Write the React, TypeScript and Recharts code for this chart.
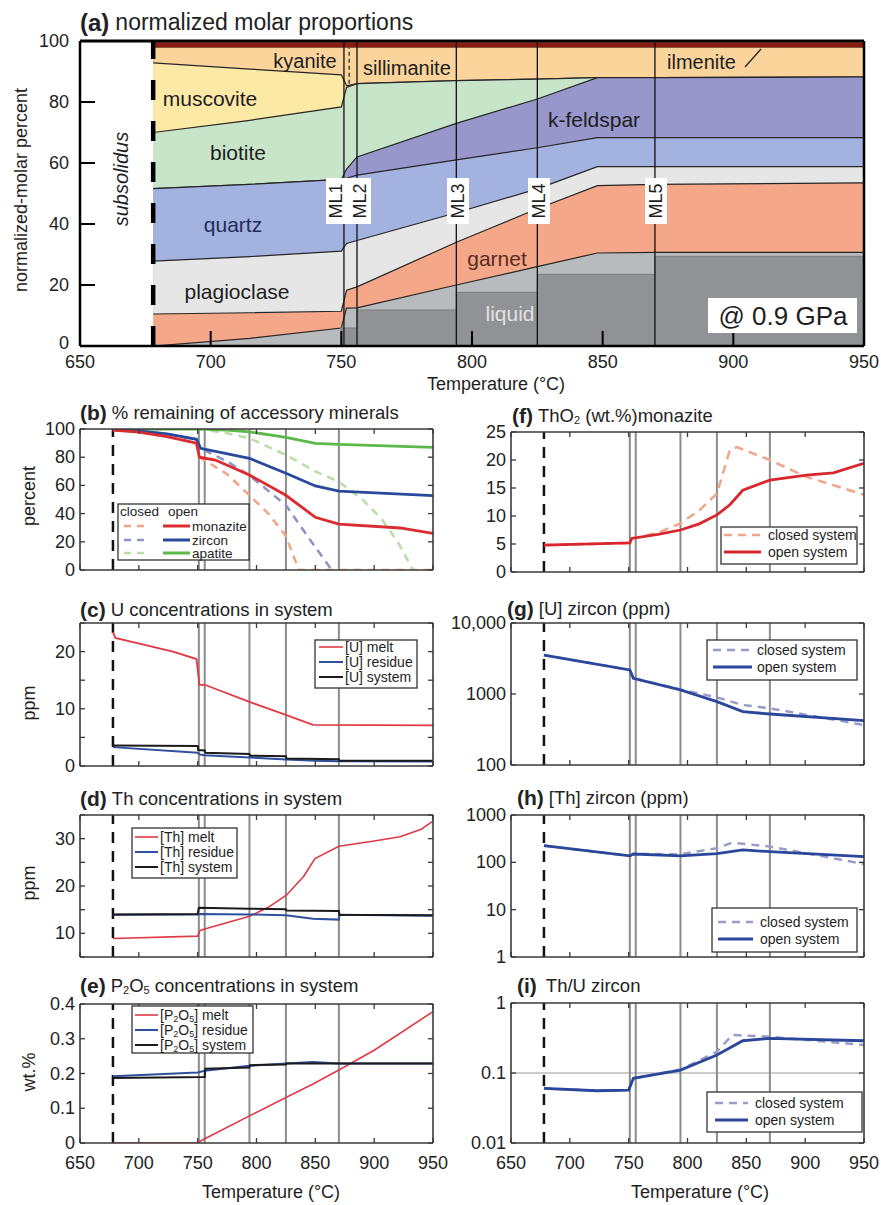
import React from 'react';
import { Area, ComposedChart, Line, ReferenceLine, XAxis, YAxis } from 'recharts';

const FONT = '"Liberation Sans", Arial, Helvetica, sans-serif';
const INK = '#3a3a3a';
const EDGE = '#262626';
const ML_GREY = '#8c8c8c';

const X_TICKS = [650, 700, 750, 800, 850, 900, 950];
const SOLIDUS_T = 678;
const ML_T = [751, 756, 794, 825, 870];

// (a) upper boundary of each phase field (normalized-molar percent)
const phaseT = [678, 715, 750, 752, 756, 794, 825, 848, 870, 950];
const liquidTop = [0, 2.5, 5.9, 12.4, 12.5, 20, 26, 30.5, 30.7, 30.7];
const garnetTop = [10.5, 10.9, 11.4, 18.3, 19.4, 34, 45, 52.6, 53, 53.5];
const plagioclaseTop = [27.8, 29.3, 31.1, 33.6, 34.6, 43.7, 51.5, 58.8, 58.8, 58.8];
const quartzTop = [51.6, 53, 54.6, 55, 56, 61, 65, 68.3, 68.3, 68.3];
const kfeldsparTop = [51.6, 53, 54.6, 58, 62, 73, 81, 88, 88, 88.2];
const biotiteTop = [70, 74, 78.4, 84.8, 86, 87, 87.5, 88, 88, 88.2];
const muscoviteTop = [92.8, 90.8, 88.9, 85.3, 86, 87, 87.5, 88, 88, 88.2];
const al2sio5Top = [98, 98, 98, 98, 98, 98, 98, 98, 98, 98];
const ilmeniteTop = [99.6, 99.6, 99.6, 99.6, 99.6, 99.6, 99.6, 99.6, 99.6, 99.6];
// extracted melt (step increases at each melt-loss event)
const extractedT = [749.5, 756, 794, 825, 870, 950];
const extractedLiquid = [5.9, 11.8, 17.6, 23.5, 29.4, 29.4];

// (b) % remaining of accessory minerals
const monaziteOpenT = [678, 700, 724, 749, 751.5, 765, 794, 825, 850, 870, 922, 950];
const monaziteOpen = [99.3, 97.8, 94.6, 89.9, 80, 78, 67.4, 53, 37.4, 32.6, 29.8, 26];
const monaziteClosedT = [678, 700, 724, 749, 751.5, 775, 794, 810, 825, 836, 950];
const monaziteClosed = [99.3, 97.8, 94.6, 89.9, 80, 68, 53, 40, 24, 0, 0];
const zirconOpenT = [678, 700, 724, 749, 752.5, 794, 825, 850, 870, 950];
const zirconOpen = [99.5, 98.6, 96.5, 92.7, 86.3, 79.2, 68.6, 59.6, 56, 52.7];
const zirconClosedT = [678, 700, 724, 749, 752.5, 775, 794, 825, 845, 864];
const zirconClosed = [99.5, 98.6, 96.5, 92.7, 86.3, 77, 67, 46, 22, 0];
const apatiteOpenT = [678, 752, 775, 794, 825, 850, 870, 950];
const apatiteOpen = [100, 100, 99.3, 98, 94, 89.8, 89.1, 87];
const apatiteClosedT = [678, 752, 775, 794, 825, 850, 870, 890, 907, 920, 933];
const apatiteClosed = [100, 100, 97, 93.4, 81.6, 70, 62.6, 50, 35.5, 20, 0];

// (c) U ppm
const uMeltT = [678, 680, 704, 729, 749, 751.5, 756, 794, 825.5, 848, 950];
const uMelt = [23.4, 22.4, 21.2, 20, 18.7, 14.2, 14.2, 11.2, 8.9, 7.2, 7.1];
const uResidueT = [678, 750, 752, 756, 794, 825, 850, 870, 950];
const uResidue = [3.3, 2.3, 2.0, 1.9, 1.5, 1.15, 0.9, 0.85, 0.8];
const uSystemT = [678, 750, 750.5, 756, 756.5, 794, 794.5, 825, 825.5, 870, 870.5, 950];
const uSystem = [3.6, 3.5, 2.8, 2.7, 2.3, 2.1, 1.8, 1.7, 1.3, 1.2, 0.9, 0.9];

// (d) Th ppm
const thMeltT = [678, 750, 752, 756, 794, 810, 825.6, 840, 849.7, 870, 900, 922, 940, 950];
const thMelt = [8.9, 9.4, 10.6, 10.9, 13.6, 15.5, 18.1, 22, 25.8, 28.4, 29.5, 30.4, 32, 33.7];
const thResidueT = [678, 750, 752, 794, 825, 848, 870, 870.5, 950];
const thResidue = [13.9, 14.0, 14.1, 14.0, 13.8, 13.1, 12.9, 13.9, 13.7];
const thSystemT = [678, 750, 751, 794, 825, 825.5, 870, 870.5, 950];
const thSystem = [14.0, 14.1, 15.4, 15.2, 15.1, 14.8, 14.7, 13.9, 13.8];

// (e) P2O5 wt.%
const pMeltT = [678, 750, 752, 794, 825, 848, 870, 900, 950];
const pMelt = [0, 0, 0.005, 0.078, 0.131, 0.17, 0.21, 0.267, 0.378];
const pResidueT = [678, 750, 756, 794, 825, 848, 870, 950];
const pResidue = [0.192, 0.203, 0.208, 0.222, 0.229, 0.233, 0.229, 0.229];
const pSystemT = [678, 756, 756.5, 794, 794.5, 825, 825.5, 950];
const pSystem = [0.187, 0.19, 0.214, 0.217, 0.224, 0.226, 0.229, 0.229];

// (f) ThO2 wt.% in monazite
const thoOpenT = [678, 751, 752.5, 775, 794, 810, 825, 836, 847, 870, 901, 924, 950];
const thoOpen = [4.8, 5.2, 6.0, 6.7, 7.5, 8.6, 10.2, 12, 14.6, 16.4, 17.3, 17.7, 19.4];
const thoClosedT = [678, 751, 752.5, 775, 794, 810, 825, 836, 842, 870, 901, 950];
const thoClosed = [4.8, 5.2, 6.0, 7.0, 8.7, 11, 14.0, 21.8, 22.3, 20, 17, 13.8];

// (g) [U] zircon ppm
const uZrnOpenT = [678, 751, 754, 794, 825, 847, 870, 950];
const uZrnOpen = [3540, 2180, 1660, 1140, 780, 564, 523, 421];
const uZrnClosedT = [678, 751, 754, 794, 825, 847, 870, 950];
const uZrnClosed = [3540, 2180, 1660, 1160, 897, 700, 628, 366];

// (h) [Th] zircon ppm
const thZrnOpenT = [678, 751, 754, 794, 825, 847, 870, 950];
const thZrnOpen = [225, 137, 150, 137, 152, 183, 168, 132];
const thZrnClosedT = [678, 751, 754, 794, 825, 838, 870, 950];
const thZrnClosed = [225, 137, 150, 148, 199, 261, 215, 92.5];

// (i) Th/U zircon
const ratioOpenT = [678, 723, 750, 754, 794, 825, 847, 870, 950];
const ratioOpen = [0.0604, 0.0558, 0.057, 0.084, 0.11, 0.181, 0.289, 0.313, 0.289];
const ratioClosedT = [678, 723, 750, 754, 794, 825, 838, 870, 950];
const ratioClosed = [0.0604, 0.0558, 0.057, 0.084, 0.112, 0.201, 0.349, 0.33, 0.251];

type Pt = { t: number; v: number };
type Series = { key: string; data: Pt[]; color: string; width: number; dash?: string };
const pts = (t: number[], v: number[]): Pt[] => t.map((x, i) => ({ t: x, v: v[i] }));

const C = {
  monO: '#dc2a31', monC: '#f2a483',
  zrnO: '#27489b', zrnC: '#8d93c3',
  apO: '#5cb848', apC: '#b8dea6',
  melt: '#e03a45', res: '#2f4f9e', sys: '#1b1b1b',
  thoO: '#d8262f', thoC: '#f0a688',
  zO: '#2b479b', zC: '#979dc8',
};

const PW = 353;

function Panel(props: {
  plotLeft: number; plotTop: number; plotH: number;
  yDomain: [number, number]; yTicks: number[]; yFmt: (v: number) => string;
  log?: boolean; series: Series[]; showX?: boolean; hGrid?: number[];
}) {
  const { plotLeft, plotTop, plotH, yDomain, yTicks, yFmt, log, series, showX, hGrid } = props;
  const YW = 76, MT = 14, MR = 26, XH = showX ? 36 : 12;
  const bottom = MT + plotH;
  const right = YW + PW;
  const xTick = (p: any) => (
    <g>
      <line x1={p.x} x2={p.x} y1={bottom} y2={bottom - 5} stroke={INK} strokeWidth={1.3} />
      <line x1={p.x} x2={p.x} y1={MT} y2={MT + 5} stroke={INK} strokeWidth={1.3} />
      {showX ? (
        <text x={p.x} y={bottom + 20} textAnchor="middle" dominantBaseline="central" fontSize={18} fontFamily={FONT} fill="#222">
          {p.payload.value}
        </text>
      ) : null}
    </g>
  );
  const yTick = (p: any) => (
    <g>
      <line x1={YW} x2={YW + 5} y1={p.y} y2={p.y} stroke={INK} strokeWidth={1.3} />
      <line x1={right} x2={right - 5} y1={p.y} y2={p.y} stroke={INK} strokeWidth={1.3} />
      <text x={YW - 5} y={p.y} textAnchor="end" dominantBaseline="central" fontSize={18} fontFamily={FONT} fill="#222">
        {yFmt(p.payload.value)}
      </text>
    </g>
  );
  return (
    <div style={{ position: 'absolute', left: plotLeft - YW, top: plotTop - MT }}>
      <ComposedChart width={YW + PW + MR} height={MT + plotH + XH} margin={{ top: MT, right: MR, left: 0, bottom: 0 }}>
        {(hGrid || []).map((g) => (
          <ReferenceLine key={'g' + g} y={g} stroke="#9a9a9a" strokeWidth={1.2} />
        ))}
        {ML_T.map((t) => (
          <ReferenceLine key={t} x={t} stroke={ML_GREY} strokeWidth={2} />
        ))}
        <ReferenceLine x={SOLIDUS_T} stroke="#111" strokeWidth={2.5} strokeDasharray="11 8" />
        {series.map((s) => (
          <Line
            key={s.key}
            data={s.data}
            dataKey="v"
            type="linear"
            stroke={s.color}
            strokeWidth={s.width}
            strokeDasharray={s.dash}
            dot={false}
            activeDot={false}
            isAnimationActive={false}
          />
        ))}
        <ReferenceLine x={950} stroke={INK} strokeWidth={1.6} />
        <ReferenceLine y={yDomain[1]} stroke={INK} strokeWidth={1.6} />
        <XAxis
          type="number"
          dataKey="t"
          domain={[650, 950]}
          ticks={X_TICKS}
          interval={0}
          allowDataOverflow
          height={XH}
          axisLine={{ stroke: INK, strokeWidth: 1.6 }}
          tickLine={false}
          tickSize={0}
          tick={xTick}
        />
        <YAxis
          type="number"
          scale={log ? 'log' : 'linear'}
          domain={yDomain}
          ticks={yTicks}
          interval={0}
          allowDataOverflow
          width={YW}
          axisLine={{ stroke: INK, strokeWidth: 1.6 }}
          tickLine={false}
          tickSize={0}
          tick={yTick}
        />
      </ComposedChart>
    </div>
  );
}

function PhaseChart() {
  const rows = phaseT.map((t, i) => ({
    t,
    ilmenite: ilmeniteTop[i],
    al2sio5: al2sio5Top[i],
    muscovite: muscoviteTop[i],
    biotite: biotiteTop[i],
    kfeldspar: kfeldsparTop[i],
    quartz: quartzTop[i],
    plagioclase: plagioclaseTop[i],
    garnet: garnetTop[i],
    liquid: liquidTop[i],
  }));
  const extracted = extractedT.map((t, i) => ({ t, extracted: extractedLiquid[i] }));
  const layers: [string, string, string][] = [
    ['ilmenite', '#8c1c12', 'none'],
    ['al2sio5', '#fbd49c', '#6b2a18'],
    ['muscovite', '#fde9a6', EDGE],
    ['biotite', '#c8e5c9', EDGE],
    ['kfeldspar', '#9897cc', EDGE],
    ['quartz', '#a4b2df', EDGE],
    ['plagioclase', '#e6e6e6', EDGE],
    ['garnet', '#f5a889', EDGE],
    ['liquid', '#b8bbbe', EDGE],
  ];
  const bottom = 346;
  const left = 80;
  const xTick = (p: any) => {
    const v = p.payload.value;
    return (
      <g>
        {v > 650 && v < 950 ? <line x1={p.x} x2={p.x} y1={bottom} y2={bottom - 15} stroke="#000" strokeWidth={2} /> : null}
        <text x={p.x} y={bottom + 16} textAnchor="middle" dominantBaseline="central" fontSize={18} fontFamily={FONT} fill="#222">
          {v}
        </text>
      </g>
    );
  };
  const yTick = (p: any) => {
    const v = p.payload.value;
    return (
      <g>
        {v > 0 && v < 100 ? <line x1={left} x2={left + 15} y1={p.y} y2={p.y} stroke="#000" strokeWidth={2} /> : null}
        <text x={left - 11} y={v === 0 ? p.y - 3 : p.y} textAnchor="end" dominantBaseline="central" fontSize={18} fontFamily={FONT} fill="#222">
          {v}
        </text>
      </g>
    );
  };
  return (
    <ComposedChart width={881} height={380} data={rows} margin={{ top: 41, right: 17, left: 0, bottom: 0 }}>
      {layers.map(([k, fill, stroke]) => (
        <Area
          key={k}
          dataKey={k}
          type="linear"
          fill={fill}
          fillOpacity={1}
          stroke={stroke}
          strokeWidth={1.2}
          dot={false}
          activeDot={false}
          isAnimationActive={false}
        />
      ))}
      <Area
        data={extracted}
        dataKey="extracted"
        type="stepAfter"
        fill="#909295"
        fillOpacity={1}
        stroke="#7b7d80"
        strokeWidth={1}
        dot={false}
        activeDot={false}
        isAnimationActive={false}
      />
      <ReferenceLine segment={[{ x: 753, y: 86 }, { x: 753, y: 97.8 }]} stroke="#222" strokeWidth={1.2} strokeDasharray="4 3" />
      {ML_T.map((t) => (
        <ReferenceLine key={t} x={t} stroke="#111" strokeWidth={1.3} />
      ))}
      <ReferenceLine x={SOLIDUS_T} stroke="#000" strokeWidth={4.5} strokeDasharray="20 21" />
      <ReferenceLine x={950} stroke="#000" strokeWidth={2.5} />
      <ReferenceLine y={100} stroke="#000" strokeWidth={3} />
      <XAxis
        type="number"
        dataKey="t"
        domain={[650, 950]}
        ticks={X_TICKS}
        interval={0}
        allowDataOverflow
        height={34}
        axisLine={{ stroke: '#000', strokeWidth: 2.5 }}
        tickLine={false}
        tickSize={0}
        tick={xTick}
      />
      <YAxis
        type="number"
        domain={[0, 100]}
        ticks={[0, 20, 40, 60, 80, 100]}
        interval={0}
        allowDataOverflow
        width={80}
        axisLine={{ stroke: '#000', strokeWidth: 2.5 }}
        tickLine={false}
        tickSize={0}
        tick={yTick}
      />
    </ComposedChart>
  );
}

function Txt({ x, y, size = 18, anchor = 'start', rotate, fill = '#1e1e1e', weight, italic, children }: any) {
  return (
    <text
      x={x}
      y={y}
      fontSize={size}
      fontFamily={FONT}
      fill={fill}
      textAnchor={anchor}
      dominantBaseline="central"
      fontWeight={weight}
      fontStyle={italic ? 'italic' : undefined}
      transform={rotate ? `rotate(${rotate} ${x} ${y})` : undefined}
    >
      {children}
    </text>
  );
}

function Title({ x, y, tag, children, gap = 5 }: any) {
  return (
    <text x={x} y={y} fontFamily={FONT} fontSize={18.5} fill="#222" dominantBaseline="central">
      <tspan fontWeight="bold" fontSize={21}>({tag})</tspan>
      <tspan dx={gap}>{children}</tspan>
    </text>
  );
}

type Row = { key: string; y: number; color: string; width: number; dash?: string; label: React.ReactNode };

function LegendBox({ x, y, w, h, rows, sx, sw, tx, size = 14 }: { x: number; y: number; w: number; h: number; rows: Row[]; sx: number; sw: number; tx: number; size?: number }) {
  return (
    <g>
      <rect x={x} y={y} width={w} height={h} fill="#fff" stroke="#333" strokeWidth={1.3} />
      {rows.map((r) => (
        <g key={r.key}>
          <line x1={sx} x2={sx + sw} y1={r.y} y2={r.y} stroke={r.color} strokeWidth={r.width} strokeDasharray={r.dash} />
          <Txt x={tx} y={r.y} size={size}>{r.label}</Txt>
        </g>
      ))}
    </g>
  );
}

const P2O5 = (
  <>
    <tspan>[P</tspan>
    <tspan dy={4} fontSize={9}>2</tspan>
    <tspan dy={-4}>O</tspan>
    <tspan dy={4} fontSize={9}>5</tspan>
    <tspan dy={-4}>]</tspan>
  </>
);

function Overlay() {
  const closedOpen = (y: number, label: string, cc: string, oc: string) => (
    <g key={label}>
      <line x1={124} x2={146} y1={y} y2={y} stroke={cc} strokeWidth={2.5} strokeDasharray="7 6" />
      <line x1={163} x2={190} y1={y} y2={y} stroke={oc} strokeWidth={3} />
      <Txt x={192} y={y} size={13.5}>{label}</Txt>
    </g>
  );
  const sysRows = (y0: number, closedColor: string, openColor: string, openW: number): Row[] => [
    { key: 'c', y: y0, color: closedColor, width: 2.5, dash: '8 6', label: 'closed system' },
    { key: 'o', y: y0 + 17, color: openColor, width: openW, label: 'open system' },
  ];
  return (
    <svg width={881} height={1205} style={{ position: 'absolute', left: 0, top: 0, pointerEvents: 'none' }}>
      {/* (a) */}
      <text x={80} y={22} fontFamily={FONT} fontSize={23} fill="#222" dominantBaseline="central">
        <tspan fontWeight="bold" fontSize={24}>(a)</tspan>
        <tspan dx={6}>normalized molar proportions</tspan>
      </text>
      <Txt x={21} y={190} size={18} anchor="middle" rotate={-90}>normalized-molar percent</Txt>
      <Txt x={496} y={384} size={18} anchor="middle">Temperature (°C)</Txt>
      <Txt x={305} y={61} size={20} anchor="middle">kyanite</Txt>
      <Txt x={363} y={68} size={20}>sillimanite</Txt>
      <Txt x={667} y={62} size={20}>ilmenite</Txt>
      <line x1={745} y1={67} x2={761} y2={49} stroke="#222" strokeWidth={1.3} />
      <Txt x={210} y={98} size={21} anchor="middle">muscovite</Txt>
      <Txt x={238} y={152} size={21} anchor="middle">biotite</Txt>
      <Txt x={594} y={119} size={21} anchor="middle">k-feldspar</Txt>
      <Txt x={233} y={224} size={21} anchor="middle" fill="#1f2d5c">quartz</Txt>
      <Txt x={237} y={291} size={21} anchor="middle">plagioclase</Txt>
      <Txt x={497} y={258} size={21} anchor="middle" fill="#5b2b1e">garnet</Txt>
      <Txt x={510} y={313} size={21} anchor="middle" fill="#e2e2e2">liquid</Txt>
      <Txt x={121} y={179} size={20} anchor="middle" rotate={-90} italic>subsolidus</Txt>
      <rect x={326} y={178} width={45} height={46} fill="#fff" />
      <Txt x={336} y={201} size={18} anchor="middle" rotate={-90}>ML1</Txt>
      <Txt x={360} y={201} size={18} anchor="middle" rotate={-90}>ML2</Txt>
      {[
        ['ML3', 458],
        ['ML4', 539],
        ['ML5', 656],
      ].map(([n, x]) => (
        <g key={n as string}>
          <rect x={(x as number) - 11} y={178} width={22} height={46} fill="#fff" />
          <Txt x={x} y={201} size={18} anchor="middle" rotate={-90}>{n}</Txt>
        </g>
      ))}
      <rect x={708} y={298} width={149} height={35} fill="#fff" />
      <Txt x={783} y={316} size={26} anchor="middle">@ 0.9 GPa</Txt>

      {/* titles */}
      <Title x={80} y={412} tag="b">% remaining of accessory minerals</Title>
      <Title x={80} y={609} tag="c">U concentrations in system</Title>
      <Title x={80} y={798} tag="d">Th concentrations in system</Title>
      <Title x={80} y={985} tag="e">
        <tspan>P</tspan>
        <tspan dy={5} fontSize={11}>2</tspan>
        <tspan dy={-5}>O</tspan>
        <tspan dy={5} fontSize={11}>5</tspan>
        <tspan dy={-5}> concentrations in system</tspan>
      </Title>
      <Title x={512} y={415} tag="f">
        <tspan>ThO</tspan>
        <tspan dy={5} fontSize={11}>2</tspan>
        <tspan dy={-5}> (wt.%)monazite</tspan>
      </Title>
      <Title x={507} y={608} tag="g">[U] zircon (ppm)</Title>
      <Title x={517} y={797} tag="h">[Th] zircon (ppm)</Title>
      <Title x={517} y={985} tag="i" gap={9}>Th/U zircon</Title>

      {/* y labels */}
      <Txt x={29} y={496} size={18} anchor="middle" rotate={-90}>percent</Txt>
      <Txt x={29} y={703} size={18} anchor="middle" rotate={-90}>ppm</Txt>
      <Txt x={29} y={883} size={18} anchor="middle" rotate={-90}>ppm</Txt>
      <Txt x={29} y={1072} size={18} anchor="middle" rotate={-90}>wt.%</Txt>
      <Txt x={271} y={1192} size={18} anchor="middle">Temperature (°C)</Txt>
      <Txt x={700} y={1192} size={18} anchor="middle">Temperature (°C)</Txt>

      {/* legends */}
      <rect x={118} y={504} width={131} height={56} fill="#fff" stroke="#333" strokeWidth={1.3} />
      <Txt x={120} y={511} size={13.5}>closed</Txt>
      <Txt x={168} y={511} size={13.5}>open</Txt>
      {closedOpen(526, 'monazite', C.monC, C.monO)}
      {closedOpen(540, 'zircon', C.zrnC, C.zrnO)}
      {closedOpen(553, 'apatite', C.apC, C.apO)}

      <LegendBox
        x={315} y={640} w={102} h={48} sx={319} sw={24} tx={345}
        rows={[
          { key: 'm', y: 647, color: C.melt, width: 1.6, label: '[U] melt' },
          { key: 'r', y: 662, color: C.res, width: 2, label: '[U] residue' },
          { key: 's', y: 677, color: C.sys, width: 2, label: '[U] system' },
        ]}
      />
      <LegendBox
        x={132} y={828} w={105} h={50} sx={135} sw={23} tx={160}
        rows={[
          { key: 'm', y: 837, color: C.melt, width: 1.6, label: '[Th] melt' },
          { key: 'r', y: 852, color: C.res, width: 2, label: '[Th] residue' },
          { key: 's', y: 867, color: C.sys, width: 2, label: '[Th] system' },
        ]}
      />
      <LegendBox
        x={132} y={1006} w={121} h={47} sx={135} sw={23} tx={160}
        rows={[
          { key: 'm', y: 1015, color: C.melt, width: 1.6, label: <>{P2O5} melt</> },
          { key: 'r', y: 1030, color: C.res, width: 2, label: <>{P2O5} residue</> },
          { key: 's', y: 1045, color: C.sys, width: 2, label: <>{P2O5} system</> },
        ]}
      />
      <LegendBox x={721} y={527} w={136} h={37} sx={724} sw={37} tx={768} rows={sysRows(535, C.thoC, C.thoO, 2.8)} />
      <LegendBox x={707} y={640} w={150} h={40} sx={713} sw={39} tx={757} rows={sysRows(650, C.zC, C.zO, 3)} />
      <LegendBox x={712} y={908} w={145} h={44} sx={718} sw={35} tx={760} rows={sysRows(922, C.zC, C.zO, 3)} />
      <LegendBox x={707} y={1092} w={155} h={40} sx={715} sw={33} tx={755} rows={sysRows(1103, C.zC, C.zO, 3)} />
    </svg>
  );
}

const fmtAll = (v: number) => String(v);
const fmtTens = (v: number) => (v % 10 === 0 ? String(v) : '');
const fmtLog = (v: number) => (v >= 10000 ? '10,000' : String(v));

export default function App() {
  return (
    <div style={{ position: 'absolute', left: 0, top: 0, width: 881, height: 1205, background: '#fff', overflow: 'hidden' }}>
      <div style={{ position: 'absolute', left: 0, top: 0 }}>
        <PhaseChart />
      </div>
      <Panel
        plotLeft={80} plotTop={429} plotH={141}
        yDomain={[0, 100]} yTicks={[0, 20, 40, 60, 80, 100]} yFmt={fmtAll}
        series={[
          { key: 'mc', data: pts(monaziteClosedT, monaziteClosed), color: C.monC, width: 2.5, dash: '8 6' },
          { key: 'zc', data: pts(zirconClosedT, zirconClosed), color: C.zrnC, width: 2.5, dash: '8 6' },
          { key: 'ac', data: pts(apatiteClosedT, apatiteClosed), color: C.apC, width: 2.5, dash: '8 6' },
          { key: 'ao', data: pts(apatiteOpenT, apatiteOpen), color: C.apO, width: 2.8 },
          { key: 'zo', data: pts(zirconOpenT, zirconOpen), color: C.zrnO, width: 2.8 },
          { key: 'mo', data: pts(monaziteOpenT, monaziteOpen), color: C.monO, width: 2.8 },
        ]}
      />
      <Panel
        plotLeft={80} plotTop={623} plotH={143}
        yDomain={[0, 25]} yTicks={[0, 5, 10, 15, 20, 25]} yFmt={fmtTens}
        series={[
          { key: 'm', data: pts(uMeltT, uMelt), color: C.melt, width: 1.8 },
          { key: 'r', data: pts(uResidueT, uResidue), color: C.res, width: 2 },
          { key: 's', data: pts(uSystemT, uSystem), color: C.sys, width: 2 },
        ]}
      />
      <Panel
        plotLeft={80} plotTop={815} plotH={142}
        yDomain={[5, 35]} yTicks={[5, 10, 15, 20, 25, 30, 35]} yFmt={fmtTens}
        series={[
          { key: 'm', data: pts(thMeltT, thMelt), color: C.melt, width: 1.6 },
          { key: 'r', data: pts(thResidueT, thResidue), color: C.res, width: 2 },
          { key: 's', data: pts(thSystemT, thSystem), color: C.sys, width: 2 },
        ]}
      />
      <Panel
        plotLeft={80} plotTop={1004} plotH={139} showX
        yDomain={[0, 0.4]} yTicks={[0, 0.1, 0.2, 0.3, 0.4]} yFmt={fmtAll}
        series={[
          { key: 'm', data: pts(pMeltT, pMelt), color: C.melt, width: 1.6 },
          { key: 'r', data: pts(pResidueT, pResidue), color: C.res, width: 2 },
          { key: 's', data: pts(pSystemT, pSystem), color: C.sys, width: 2 },
        ]}
      />
      <Panel
        plotLeft={511} plotTop={432} plotH={140}
        yDomain={[0, 25]} yTicks={[0, 5, 10, 15, 20, 25]} yFmt={fmtAll}
        series={[
          { key: 'c', data: pts(thoClosedT, thoClosed), color: C.thoC, width: 2.5, dash: '9 6' },
          { key: 'o', data: pts(thoOpenT, thoOpen), color: C.thoO, width: 2.8 },
        ]}
      />
      <Panel
        plotLeft={511} plotTop={623} plotH={142} log
        yDomain={[100, 10000]} yTicks={[100, 1000, 10000]} yFmt={fmtLog}
        series={[
          { key: 'c', data: pts(uZrnClosedT, uZrnClosed), color: C.zC, width: 2.5, dash: '8 6' },
          { key: 'o', data: pts(uZrnOpenT, uZrnOpen), color: C.zO, width: 2.8 },
        ]}
      />
      <Panel
        plotLeft={511} plotTop={815} plotH={142} log
        yDomain={[1, 1000]} yTicks={[1, 10, 100, 1000]} yFmt={fmtAll}
        series={[
          { key: 'c', data: pts(thZrnClosedT, thZrnClosed), color: C.zC, width: 2.5, dash: '8 6' },
          { key: 'o', data: pts(thZrnOpenT, thZrnOpen), color: C.zO, width: 2.8 },
        ]}
      />
      <Panel
        plotLeft={511} plotTop={1003} plotH={140} log showX hGrid={[0.1]}
        yDomain={[0.01, 1]} yTicks={[0.01, 0.1, 1]} yFmt={fmtAll}
        series={[
          { key: 'c', data: pts(ratioClosedT, ratioClosed), color: C.zC, width: 2.5, dash: '8 6' },
          { key: 'o', data: pts(ratioOpenT, ratioOpen), color: C.zO, width: 2.8 },
        ]}
      />
      <Overlay />
    </div>
  );
}
